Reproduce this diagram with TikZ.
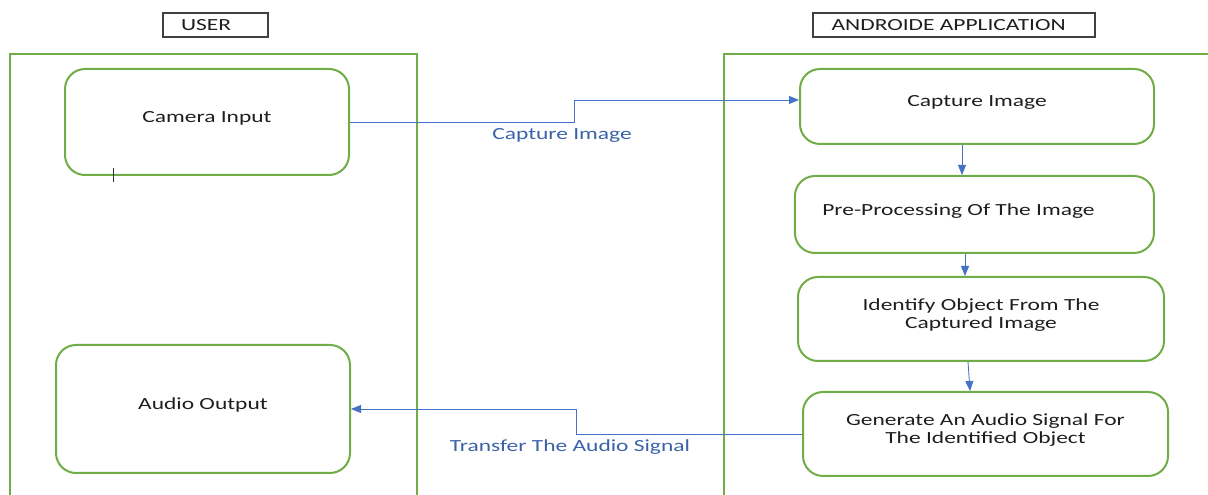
\documentclass[tikz,border=0pt]{standalone}
\usepackage{fontspec}
\setmainfont{Carlito}[FakeStretch=1.38]
\usepackage{xcolor}
\usepackage{tikz}
\usetikzlibrary{arrows.meta}
\usetikzlibrary{calc}
\usetikzlibrary{positioning}
\definecolor{lanegreen}{HTML}{70AD47}
\definecolor{flowblue}{HTML}{4472C4}
\definecolor{lblblue}{HTML}{3A62A8}
\definecolor{txtgray}{HTML}{1E1E1E}

\begin{document}
\begin{tikzpicture}[x=0.75pt,y=-0.75pt,>={Triangle[length=7.5pt,width=6pt]},font=\fontsize{12.75pt}{13.5pt}\selectfont]
			\tikzstyle{lane}=[draw=lanegreen, line width=1.5pt]
			\tikzstyle{box}=[draw=lanegreen, line width=1.5pt, rounded corners=15pt, text=txtgray, align=center, execute at end node={\rule[-8pt]{0pt}{0pt}}]
			\tikzstyle{hdr}=[draw=black!75, line width=0.9pt, text=txtgray, minimum height=18pt]
			\tikzstyle{flow}=[->, draw=flowblue, line width=0.65pt]
			\tikzstyle{lbl}=[text=lblblue]

			\useasboundingbox (0,0) rectangle (1208,495);

			% swimlanes
			\draw[lane] (10,495) -- (10,54) -- (417,54) -- (417,495);
			\draw[lane] (724,495) -- (724,54) -- (1208,54);

 					 \node[hdr, minimum width=78.75pt]  (usr) at (215.5,25)  {USER\hspace*{14pt}};
 					 \node[hdr, minimum width=211.5pt]  (app) at (954,25)    {ANDROIDE APPLICATION\hspace*{8pt}};

 					 \node[box, minimum width=213pt, minimum height=79.5pt]   (cam) at (207,122)   {Camera Input};
 					 \node[box, minimum width=220.5pt, minimum height=96pt]   (aud) at (203,409)   {Audio Output};

 					 \node[box, minimum width=265.5pt, minimum height=56.25pt] (cap) at (977,106.5) {Capture Image};
 					 \node[box, minimum width=269.25pt, minimum height=57.75pt] (pre) [below=22.5pt of cap, xshift=-1.9pt] {Pre-Processing Of The Image\hspace*{24pt}};
 					 \node[box, minimum width=274.5pt, minimum height=63pt]    (idt) [below=16.5pt of pre, xshift=4.9pt] {Identify Object From The\\Captured Image};
 					 \node[box, minimum width=273.75pt, minimum height=63pt]   (gen) [below=21.75pt of idt, xshift=3.4pt] {Generate An Audio Signal For\\The Identified Object};

 					 \node[lbl] (capLbl) at (562,135) {Capture Image};
 					 \node[lbl] (audLbl) at (570,447) {Transfer The Audio Signal};

			% cursor mark
			\draw[black!80, line width=0.75pt] (113,168) -- (113,182);

					 \path
				(cam.east) edge[flow, to path={-| ($(cam.east)!.5!([yshift=4.9pt]cap.west)$) |- ([yshift=4.9pt]cap.west)}] (cap)
				(gen.west) edge[flow, to path={-| ($(gen.west)!.5!(aud.east)$) |- (aud.east)}] (aud)
				;
			\draw[flow] ([xshift=-11.25pt]cap.south) -- ([xshift=-11.25pt]cap.south |- pre.north);
			\draw[flow] ([xshift=-7.1pt]pre.south) -- ([xshift=-7.1pt]pre.south |- idt.north);
			\draw[flow] ([xshift=-9.75pt]idt.south) -- ([xshift=-11.6pt]gen.north);

	\end{tikzpicture}
\end{document}
